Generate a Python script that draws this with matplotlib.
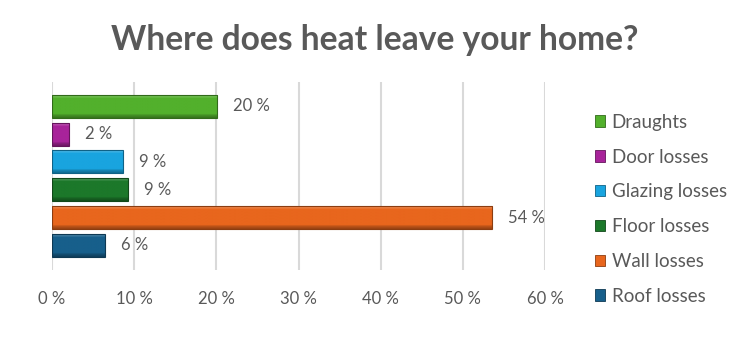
import matplotlib
matplotlib.use("Agg")
import matplotlib.pyplot as plt
import numpy as np
from matplotlib.patches import Patch
from matplotlib.colors import to_rgb

categories = ["Draughts", "Door losses", "Glazing losses", "Floor losses", "Wall losses", "Roof losses"]
values = [20.1, 2.1, 8.6, 9.2, 53.6, 6.4]
labels = ["20 %", "2 %", "9 %", "9 %", "54 %", "6 %"]
colors = ["#52b02c", "#a8239a", "#19a4df", "#1c782a", "#e8661d", "#175f8b"]
xticks = [0, 10, 20, 30, 40, 50, 60]
xticklabels = ["0 %", "10 %", "20 %", "30 %", "40 %", "50 %", "60 %"]
title = "Where does heat leave your home?"

TEXT = "#595959"
plt.rcParams['font.family'] = ['Lato', 'DejaVu Sans']

fig = plt.figure(figsize=(7.5, 3.61), dpi=100)
ax = fig.add_axes([0.0693, 0.2521, 0.7267 - 0.0693, 0.7729 - 0.2521])

n = len(categories)
ypos = np.arange(n)[::-1]  # Draughts on top
bars = ax.barh(ypos, values, height=0.83, color=colors, zorder=2,
               edgecolor="none")

def shade(c, f):
    r = np.array(to_rgb(c))
    if f > 0:
        return r + (1 - r) * f
    return r * (1 + f)

for b, c in zip(bars, colors):
    x0, y0 = b.get_x(), b.get_y()
    w, h = b.get_width(), b.get_height()
    steps = np.linspace(0, 1, 64)
    grad = []
    for t in steps:  # t=0 bottom, t=1 top
        if t < 0.15:
            grad.append(shade(c, -0.35 + t * 1.5))
        elif t > 0.85:
            grad.append(shade(c, 0.3 - (1 - t) * 1.4))
        else:
            grad.append(shade(c, 0.0))
    img = np.array(grad)[:, None, :]
    im = ax.imshow(img, extent=[x0, x0 + w, y0, y0 + h], origin="lower",
                   aspect="auto", zorder=3, interpolation="bilinear")
    im.set_clip_path(b)
    ax.add_patch(plt.Rectangle((x0, y0), w, h, fill=False,
                               edgecolor=shade(c, -0.4), lw=0.8, zorder=4))

for y, v, lab in zip(ypos, values, labels):
    ax.annotate(lab, (v, y), xytext=(11.5, 0), textcoords="offset points",
                va="center", ha="left", fontsize=12, color=TEXT)

ax.set_xlim(0, 60)
ax.set_ylim(-0.89, n - 1 + 0.88)
ax.set_xticks(xticks)
ax.set_xticklabels(xticklabels, fontsize=12, color=TEXT)
ax.set_yticks([])
ax.tick_params(axis="x", length=0, pad=15)
ax.grid(axis="x", color="#d9d9d9", lw=1.5, zorder=0)
for s in ax.spines.values():
    s.set_visible(False)

fig.text(0.5, 0.889, title, ha="center", va="center", fontsize=24.2,
         fontweight="bold", color=TEXT)

handles = [Patch(facecolor=c, edgecolor=shade(c, -0.4), lw=0.6) for c in colors]
fig.legend(handles, categories, loc="upper left", bbox_to_anchor=(0.793, 0.685),
           frameon=False, fontsize=13.5, labelcolor=TEXT, handlelength=0.55,
           handleheight=0.55, handletextpad=0.35, labelspacing=0.95,
           borderaxespad=0, borderpad=0)

fig.savefig("out.png", dpi=100)
